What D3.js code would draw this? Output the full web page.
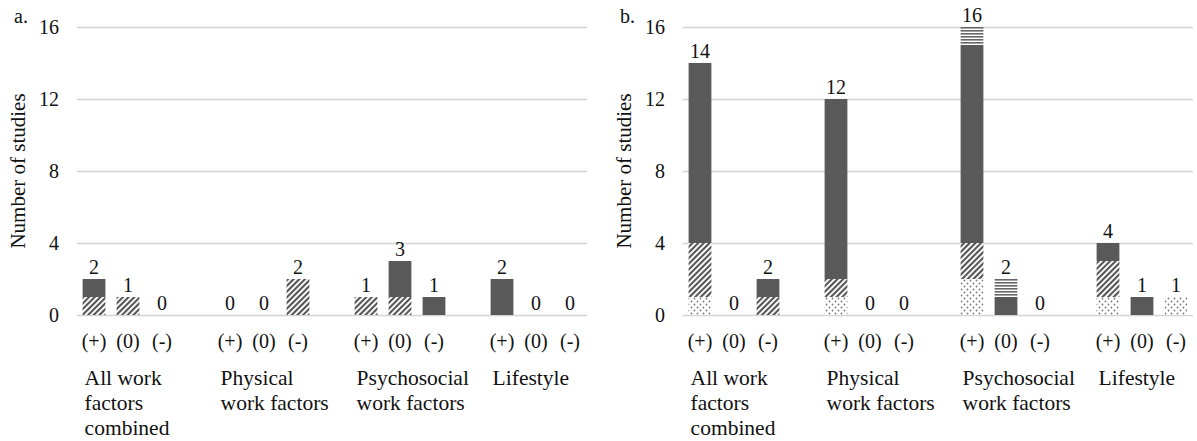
<!DOCTYPE html>
<html lang="en">
<head>
	<meta charset="UTF-8">
	<title>Number of studies</title>
</head>
<style>
	body { margin: 0; background: #fff; }
	svg text { font-family: "Liberation Serif", "Times New Roman", serif; fill: #111; }
	.grid line { stroke: #d4d4d4; stroke-width: 1.5; }
	.grid text { font-size: 20px; }
</style>
<body>
<svg id="chart" width="1197" height="441"></svg>
<script src="https://d3js.org/d3.v7.min.js"></script>
<script type="text/javascript">
	var categories = ["All work factors combined", "Physical work factors", "Psychosocial work factors", "Lifestyle"];
	var categoryLines = [["All work", "factors", "combined"], ["Physical", "work factors"], ["Psychosocial", "work factors"], ["Lifestyle"]];
	var directions = ["(+)", "(0)", "(-)"];
	var yTicks = [0, 4, 8, 12, 16];
	var seriesKeys = ["dots", "hatch", "solid", "stripes"];

	// one value per bar: 4 categories x (+),(0),(-)
	var aDots    = [0, 0, 0,  0, 0, 0,  0, 0, 0,  0, 0, 0];
	var aHatch   = [1, 1, 0,  0, 0, 2,  1, 1, 0,  0, 0, 0];
	var aSolid   = [1, 0, 0,  0, 0, 0,  0, 2, 1,  2, 0, 0];
	var aStripes = [0, 0, 0,  0, 0, 0,  0, 0, 0,  0, 0, 0];

	var bDots    = [1, 0, 0,  1, 0, 0,  2, 0, 0,  1, 0, 1];
	var bHatch   = [3, 0, 1,  1, 0, 0,  2, 0, 0,  2, 0, 0];
	var bSolid   = [10, 0, 1, 10, 0, 0, 11, 1, 0,  1, 1, 0];
	var bStripes = [0, 0, 0,  0, 0, 0,  1, 1, 0,  0, 0, 0];

	var svg = d3.select("#chart");

	// fills
	var defs = svg.append("defs");

	var hatch = defs.append("pattern").attr("id", "hatch")
		.attr("patternUnits", "userSpaceOnUse").attr("width", 4).attr("height", 4)
		.attr("patternTransform", "rotate(45)");
	hatch.append("rect").attr("width", 4).attr("height", 4).attr("fill", "#fff");
	hatch.append("line").attr("x1", 1).attr("x2", 1).attr("y1", 0).attr("y2", 4)
		.attr("stroke", "#555").attr("stroke-width", 2.2);

	var dots = defs.append("pattern").attr("id", "dots")
		.attr("patternUnits", "userSpaceOnUse").attr("width", 6).attr("height", 6);
	dots.append("rect").attr("width", 6).attr("height", 6).attr("fill", "#fff");
	dots.append("circle").attr("cx", 1.5).attr("cy", 1.5).attr("r", 0.9).attr("fill", "#777");
	dots.append("circle").attr("cx", 4.5).attr("cy", 4.5).attr("r", 0.9).attr("fill", "#777");

	var stripes = defs.append("pattern").attr("id", "stripes")
		.attr("patternUnits", "userSpaceOnUse").attr("width", 4).attr("height", 3);
	stripes.append("rect").attr("width", 4).attr("height", 3).attr("fill", "#fff");
	stripes.append("rect").attr("y", 0).attr("width", 4).attr("height", 1.6).attr("fill", "#666");

	var fills = { dots: "url(#dots)", hatch: "url(#hatch)", solid: "#595959", stripes: "url(#stripes)" };

	function buildRows(d, h, s, st) {
		var rows = [];
		categories.forEach(function(c, ci) {
			directions.forEach(function(dir, di) {
				var i = ci * 3 + di;
				rows.push({ cat: c, dir: dir, dots: d[i], hatch: h[i], solid: s[i], stripes: st[i] });
			});
		});
		return rows;
	}

	function total(d) { return d.dots + d.hatch + d.solid + d.stripes; }

	function panel(offsetX, letter, rows) {
		var left = 77, right = 587, top = 27, bottom = 315;

		var g = svg.append("g").attr("transform", "translate(" + offsetX + ",0)");

		var y = d3.scaleLinear().domain([0, 16]).range([bottom, top]);

		var x0 = d3.scaleBand().domain(categories).range([left, right])
			.paddingInner(0.25).paddingOuter(0);
		var x1 = d3.scaleBand().domain(directions).range([0, x0.bandwidth()])
			.paddingInner(0.33).paddingOuter(0.165);

		g.append("g").attr("class", "grid")
			.attr("transform", "translate(" + left + ",0)")
			.call(d3.axisLeft(y).tickValues(yTicks).tickSize(-(right - left)).tickPadding(18))
			.call(function(a) { a.select(".domain").remove(); });

		var stacked = d3.stack().keys(seriesKeys)(rows);

		g.append("g").selectAll("g")
			.data(stacked)
			.enter().append("g")
			.attr("fill", function(d) { return fills[d.key]; })
			.selectAll("rect")
			.data(function(d) { return d.filter(function(p) { return p[1] > p[0]; }); })
			.enter().append("rect")
			.attr("x", function(d) { return x0(d.data.cat) + x1(d.data.dir); })
			.attr("y", function(d) { return y(d[1]); })
			.attr("width", x1.bandwidth())
			.attr("height", function(d) { return y(d[0]) - y(d[1]); });

		// totals above the bars
		g.append("g").selectAll("text")
			.data(rows)
			.enter().append("text")
			.attr("x", function(d) { return x0(d.cat) + x1(d.dir) + x1.bandwidth() / 2; })
			.attr("y", function(d) { return y(total(d)) - 5; })
			.attr("text-anchor", "middle")
			.style("font-size", "20px")
			.text(total);

		// (+) (0) (-) under each bar
		g.append("g").selectAll("text")
			.data(rows)
			.enter().append("text")
			.attr("x", function(d) { return x0(d.cat) + x1(d.dir) + x1.bandwidth() / 2; })
			.attr("y", 348)
			.attr("text-anchor", "middle")
			.style("font-size", "20px")
			.text(function(d) { return d.dir; });

		var names = g.append("g").selectAll("text")
			.data(categories)
			.enter().append("text")
			.attr("y", 385)
			.style("font-size", "21.5px");
		names.selectAll("tspan")
			.data(function(d, i) { return categoryLines[i].map(function(t) { return { cat: d, t: t }; }); })
			.enter().append("tspan")
			.attr("x", function(d) { return x0(d.cat) + x1(directions[0]) + 2; })
			.attr("dy", function(d, i) { return i ? 25 : 0; })
			.text(function(d) { return d.t; });

		g.append("text")
			.attr("transform", "translate(25," + (top + bottom) / 2 + ") rotate(-90)")
			.attr("text-anchor", "middle")
			.style("font-size", "21px")
			.text("Number of studies");

		g.append("text")
			.attr("x", 14).attr("y", 23)
			.style("font-size", "20px")
			.text(letter);
	}

	panel(0, "a.", buildRows(aDots, aHatch, aSolid, aStripes));
	panel(606, "b.", buildRows(bDots, bHatch, bSolid, bStripes));
</script>
</body>
</html>
